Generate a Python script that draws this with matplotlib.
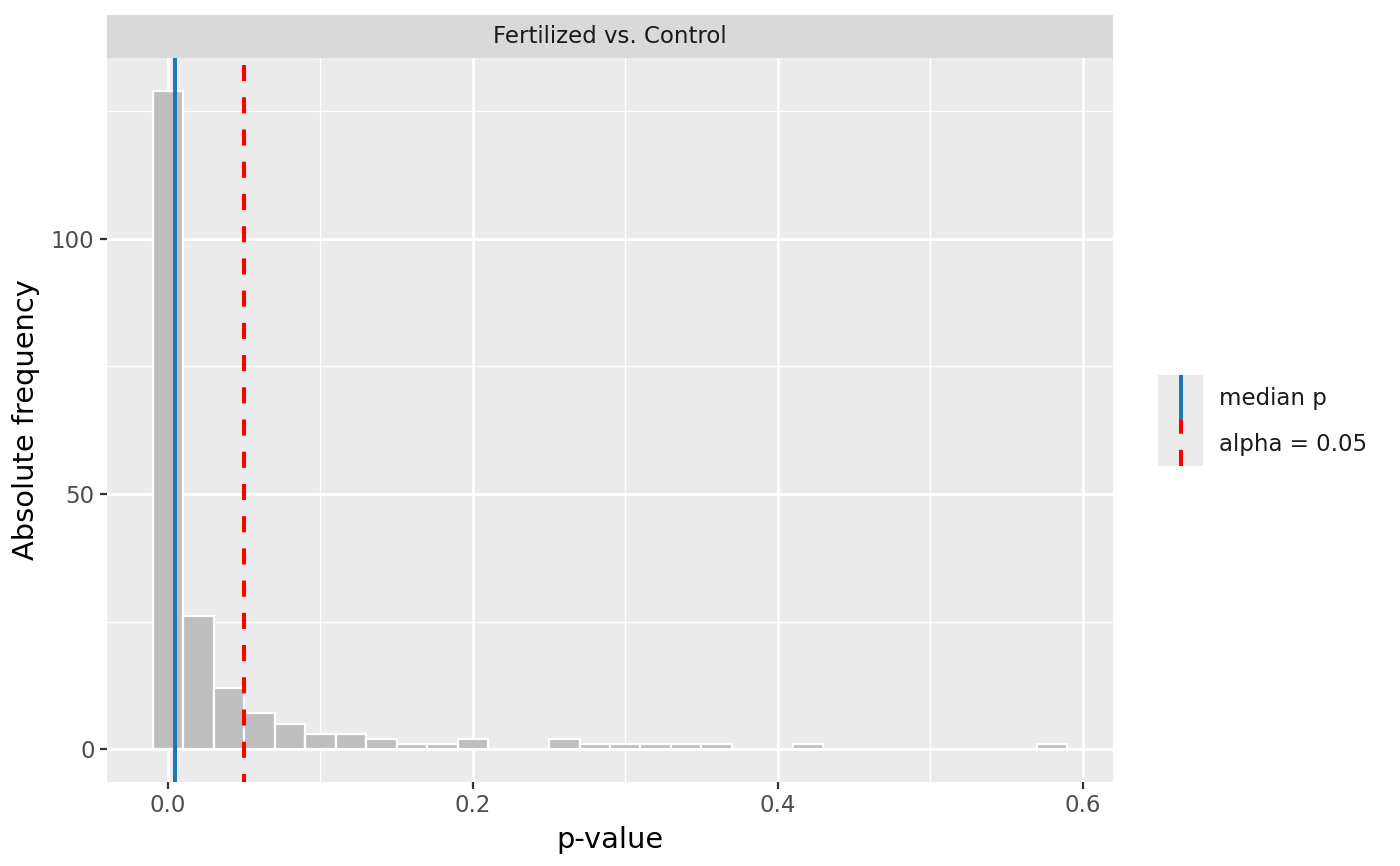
import matplotlib
matplotlib.use("Agg")
import matplotlib.pyplot as plt
from matplotlib.ticker import MultipleLocator

# Data
bin_centers = [0.00, 0.02, 0.04, 0.06, 0.08, 0.10, 0.12, 0.14, 0.16, 0.18, 0.20,
               0.22, 0.24, 0.26, 0.28, 0.30, 0.32, 0.34, 0.36, 0.38, 0.40, 0.42,
               0.44, 0.46, 0.48, 0.50, 0.52, 0.54, 0.56, 0.58]
counts = [129, 26, 12, 7, 5, 3, 3, 2, 1, 1, 2,
          0, 0, 2, 1, 1, 1, 1, 1, 0, 0, 1,
          0, 0, 0, 0, 0, 0, 0, 1]
bin_width = 0.02
median_p = 0.0044
alpha_level = 0.05
x_ticks = [0.0, 0.2, 0.4, 0.6]
x_ticklabels = ["0.0", "0.2", "0.4", "0.6"]
y_ticks = [0, 50, 100]
facet_title = "Fertilized vs. Control"
legend_labels = ["median p", "alpha = 0.05"]

W, H = 1400, 866
fig = plt.figure(figsize=(W / 100, H / 100), dpi=100)
plt.rcParams['font.family'] = ['DejaVu Sans']

def fx(px):
    return px / W

def fy(py):
    return 1 - py / H

pl, pr, pt, pb = 107, 1113, 58, 782
ax = fig.add_axes([fx(pl), fy(pb), fx(pr) - fx(pl), fy(pt) - fy(pb)])
ax.set_facecolor("#EBEBEB")
for s in ax.spines.values():
    s.set_visible(False)

ax.set_xlim(-0.04, 0.62)
ax.set_ylim(-6.45, 135.45)
ax.xaxis.set_major_locator(MultipleLocator(0.2))
ax.xaxis.set_minor_locator(MultipleLocator(0.1))
ax.yaxis.set_major_locator(MultipleLocator(50))
ax.yaxis.set_minor_locator(MultipleLocator(25))
ax.set_xticks(x_ticks)
ax.set_xticklabels(x_ticklabels)
ax.set_yticks(y_ticks)
ax.grid(which="major", color="white", linewidth=2.0)
ax.grid(which="minor", color="white", linewidth=1.0)
ax.set_axisbelow(True)
ax.tick_params(which="major", length=5, width=1.6, color="#333333",
               labelsize=16.5, labelcolor="#4D4D4D", pad=4)
ax.tick_params(which="minor", length=0)

nonzero = [(c, n) for c, n in zip(bin_centers, counts) if n > 0]
ax.bar([c for c, n in nonzero], [n for c, n in nonzero], width=bin_width,
       color="#BEBEBE", edgecolor="white", linewidth=1.6, zorder=2)

ax.axvline(median_p, color="#1F77B4", linewidth=2.9, zorder=3)
ax.axvline(alpha_level, color="#FF0000", linewidth=2.9, linestyle=(2, (4, 4)), zorder=3)

ax.set_xlabel("p-value", fontsize=20.8, labelpad=6)
ax.set_ylabel("Absolute frequency", fontsize=20.8, labelpad=8)

# Facet strip
sax = fig.add_axes([fx(pl), fy(pt), fx(pr) - fx(pl), fy(15) - fy(pt)])
sax.set_facecolor("#D9D9D9")
sax.set_xticks([]); sax.set_yticks([])
for s in sax.spines.values():
    s.set_visible(False)
sax.text(0.5, 0.5, facet_title, ha="center", va="center", fontsize=16.5,
         color="#1A1A1A", transform=sax.transAxes)

# Legend
lax = fig.add_axes([fx(1158), fy(466), fx(1203) - fx(1158), fy(375) - fy(466)])
lax.set_facecolor("#EBEBEB")
lax.set_xlim(0, 1); lax.set_ylim(0, 1)
lax.set_xticks([]); lax.set_yticks([])
for s in lax.spines.values():
    s.set_visible(False)
lax.plot([0.5, 0.5], [0.5, 1.0], color="#1F77B4", linewidth=2.9, solid_capstyle="butt")
lax.plot([0.5, 0.5], [0.0, 0.5], color="#FF0000", linewidth=2.9,
         linestyle=(0, (4, 4)), dash_capstyle="butt")
fig.text(fx(1219), fy(398), legend_labels[0], ha="left", va="center",
         fontsize=16.5, color="#1A1A1A")
fig.text(fx(1219), fy(444), legend_labels[1], ha="left", va="center",
         fontsize=16.5, color="#1A1A1A")

fig.savefig("out.png", dpi=100)
